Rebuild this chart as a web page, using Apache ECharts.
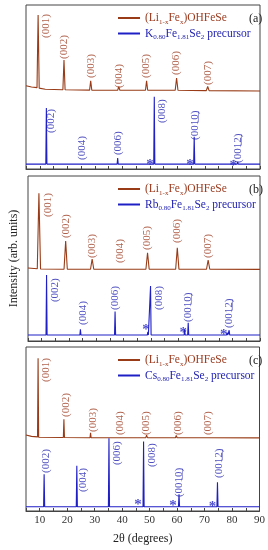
<!DOCTYPE html>
<html>
<head>
<meta charset="utf-8">
<script src="https://cdn.jsdelivr.net/npm/echarts@6/dist/echarts.min.js"></script>
<style>html,body{margin:0;padding:0;background:#fff}#c{width:268px;height:550px}</style>
</head>
<body>
<div id="c"></div>
<script>
// ---------- data (2θ in degrees, intensity in arbitrary units, 0-100 per panel) ----------
const panelLetters = ['(a)', '(b)', '(c)'];
const precursorKeys = ['K', 'Rb', 'Cs'];

// Panel (a)
const hostA = [[5,50.8],[7,50],[9.0,49.6],[9.4,93.9],[9.8,49.3],[12,48.6],[18.4,48.3],[18.8,66.5],[19.2,48.3],[28.1,48.1],[28.5,53.7],[28.9,48.1],[38.3,48],[38.7,50.2],[39.1,48],[48.4,48],[48.8,53.7],[49.2,48],[59.2,48],[59.7,55.5],[60.2,48],[70.5,47.8],[71,50.3],[71.5,47.8],[90,47.6]];
const precA = [[5,3],[12.2,3],[12.4,37.2],[12.6,3],[25.0,3],[25.2,4.2],[25.4,3],[38.1,3],[38.3,6.7],[38.5,3],[50.3,3],[50.5,3.8],[50.7,3],[51.4,3],[51.6,44.1],[51.8,3],[64.7,3],[64.9,3.6],[65.1,3],[65.9,3],[66.1,19.7],[66.3,3],[81.7,3],[81.9,4.3],[82.1,3],[90,3]];
const hostLabelsA = [[12.4,79.9,'(001)'],[19,67.1,'(002)'],[28.5,55.5,'(003)'],[38.7,49.4,'(004)'],[48.8,55.5,'(005)'],[59.7,57.3,'(006)'],[71,51.2,'(007)']];
const precLabelsA = [[14.2,22,'(002)'],[25.5,5.5,'(004)'],[38.3,8.5,'(006)'],[54.3,28,'(008)'],[66.3,17.7,'(001\u03320\u0332)'],[81.9,3.7,'(001\u03322\u0332)']];
const starsA = [[50,4.3],[64.6,4.3],[80.3,3.7]];

// Panel (b)
const hostB = [[5,44.2],[8.4,43.8],[9.0,89.5],[9.6,43.6],[18.2,43.5],[18.8,60.6],[19.4,43.5],[27.9,43.5],[28.5,49.7],[29.1,43.5],[38.2,43.5],[38.7,44.5],[39.2,43.5],[48.2,43.5],[48.8,53.5],[49.4,43.5],[59.1,43.5],[59.7,56.5],[60.3,43.5],[70.4,43.5],[71,49.1],[71.6,43.5],[90,43.4]];
const precB = [[5,3.6],[11.6,3.6],[11.8,40],[12.0,3.6],[24.0,3.6],[24.2,7.1],[24.4,3.6],[36.7,3.6],[36.9,17.8],[37.1,3.6],[48.7,3.6],[48.9,5.6],[49.1,3.6],[49.7,3.6],[49.9,33.3],[50.1,3.6],[62.2,3.6],[62.4,7.1],[62.6,3.6],[63.5,3.6],[63.7,11.1],[63.9,3.6],[77.7,3.6],[77.9,5],[78.2,3.6],[78.5,3.6],[78.7,6.5],[78.9,3.6],[90,3.6]];
const hostLabelsB = [[12.4,75.2,'(001)'],[19,62.4,'(002)'],[28.5,50.3,'(003)'],[38.7,47.3,'(004)'],[48.8,55.2,'(005)'],[59.7,59.4,'(006)'],[71,50.3,'(007)']];
const precLabelsB = [[14.8,23.6,'(002)'],[25.2,9.7,'(004)'],[36.9,18.8,'(006)'],[53,18.8,'(008)'],[63.7,11.5,'(001\u03320\u0332)'],[78.7,7.9,'(001\u03322\u0332)']];
const starsB = [[48.2,8.5],[61.9,6.7],[76.7,5.5]];

// Panel (c)
const hostC = [[5,46.3],[7,45.5],[9.2,45.2],[9.4,93.1],[9.6,45],[18.6,44.8],[18.8,55.9],[19.0,44.8],[28.3,44.7],[28.5,47.7],[28.7,44.7],[38.5,44.7],[38.7,45.2],[38.9,44.7],[48.6,44.7],[48.9,46.2],[49.2,44.7],[59.4,44.7],[59.7,46],[60,44.7],[70.7,44.7],[71,45.2],[71.3,44.7],[90,44.6]];
const precC = [[5,2.6],[11.4,2.6],[11.6,22.4],[11.8,2.6],[23.3,2.6],[23.5,27.6],[23.7,2.6],[35.0,2.6],[35.2,44.3],[35.4,2.6],[47.6,2.6],[47.8,42.3],[48.0,2.6],[60.5,2.6],[60.7,10.2],[60.9,2.6],[74.5,2.6],[74.7,17.5],[74.9,2.6],[90,2.6]];
const hostLabelsC = [[12.4,78.7,'(001)'],[19.7,57.3,'(002)'],[29.5,48.2,'(003)'],[39.3,46.3,'(004)'],[48.9,46.3,'(005)'],[60.4,46.3,'(006)'],[71.2,46.3,'(007)']];
const precLabelsC = [[12.4,23.2,'(002)'],[25.7,11.6,'(004)'],[38.1,28,'(006)'],[51,26.8,'(008)'],[60.9,8.5,'(001\u03320\u0332)'],[75.3,20.1,'(001\u03322\u0332)']];
const starsC = [[45.8,5.7],[58.5,4.9],[72.9,4.3]];

// ---------- chart ----------
const FONT = 'Liberation Serif';
const BROWN = '#983b16', BLUE = '#1f1fc6';
const BROWN_TXT = '#9c3a1e', BLUE_TXT = '#2323b0';
const AX = '#444';

const hosts = [hostA, hostB, hostC];
const precs = [precA, precB, precC];
const hostLabels = [hostLabelsA, hostLabelsB, hostLabelsC];
const precLabels = [precLabelsA, precLabelsB, precLabelsC];
const stars = [starsA, starsB, starsC];

const grids = [
  {left: 26, width: 234, top: 5, height: 164},
  {left: 26, width: 234, top: 176, height: 165},
  {left: 26, width: 234, top: 347, height: 164}
].map(g => Object.assign(g, {show: true, borderColor: AX, borderWidth: 1, backgroundColor: 'transparent'}));

const xAxes = [0,1,2].map(i => ({
  type: 'value', gridIndex: i, min: 5, max: 90, interval: 5,
  axisLine: {show: true, lineStyle: {color: AX, width: 1}},
  axisTick: {show: true, inside: true, length: 3, lineStyle: {color: AX}},
  splitLine: {show: false},
  axisLabel: {show: i === 2, margin: 4, fontFamily: FONT, fontSize: 11, color: '#333',
    formatter: v => (v % 10 === 0 ? String(v) : '')},
  name: i === 2 ? '2\u03b8 (degrees)' : '', nameLocation: 'middle', nameGap: 22,
  nameTextStyle: {fontFamily: FONT, fontSize: 12, color: '#222'}
}));

const yAxes = [0,1,2].map(i => ({
  type: 'value', gridIndex: i, min: 0, max: 100, show: i === 1,
  axisLine: {show: false}, axisTick: {show: false}, axisLabel: {show: false}, splitLine: {show: false},
  name: i === 1 ? 'Intensity (arb. units)' : '', nameLocation: 'middle', nameGap: 8,
  nameTextStyle: {fontFamily: FONT, fontSize: 12, color: '#222'}
}));

const series = [];
for (let i = 0; i < 3; i++) {
  series.push({name: 'Li', type: 'line', xAxisIndex: i, yAxisIndex: i, data: hosts[i],
    showSymbol: false, symbol: 'none', lineStyle: {color: BROWN, width: 1.1}, itemStyle: {color: BROWN}, z: 2});
  series.push({name: precursorKeys[i], type: 'line', xAxisIndex: i, yAxisIndex: i, data: precs[i],
    showSymbol: false, symbol: 'none', lineStyle: {color: BLUE, width: 1.1}, itemStyle: {color: BLUE}, z: 3});
  const lab = (data, color) => ({type: 'scatter', xAxisIndex: i, yAxisIndex: i, data: data,
    symbolSize: 1, itemStyle: {color: 'rgba(0,0,0,0)'}, silent: true, z: 5,
    label: {show: true, position: 'inside', rotate: 90, align: 'left', verticalAlign: 'middle',
      formatter: p => p.value[2], fontFamily: FONT, fontSize: 11, color: color}});
  series.push(lab(hostLabels[i], BROWN_TXT));
  series.push(lab(precLabels[i], BLUE_TXT));
  series.push({type: 'scatter', xAxisIndex: i, yAxisIndex: i, data: stars[i],
    symbolSize: 1, itemStyle: {color: 'rgba(0,0,0,0)'}, silent: true, z: 5,
    label: {show: true, position: 'inside', formatter: '*', offset: [0, 3],
      fontFamily: FONT, fontSize: 15, fontWeight: 'bold', color: BLUE}});
}

const legendText = {
  Li: '{b|(Li}{bs|1-x}{b|Fe}{bs|x}{b|)OHFeSe}',
  K: '{u|K}{us|0.80}{u|Fe}{us|1.81}{u|Se}{us|2}{u| precursor}',
  Rb: '{u|Rb}{us|0.80}{u|Fe}{us|1.81}{u|Se}{us|2}{u| precursor}',
  Cs: '{u|Cs}{us|0.80}{u|Fe}{us|1.81}{u|Se}{us|2}{u| precursor}'
};
const rich = {
  b: {fontFamily: FONT, fontSize: 11.5, color: BROWN_TXT, lineHeight: 15},
  bs: {fontFamily: FONT, fontSize: 7, color: BROWN_TXT, lineHeight: 7, verticalAlign: 'bottom'},
  u: {fontFamily: FONT, fontSize: 11.5, color: BLUE_TXT, lineHeight: 15},
  us: {fontFamily: FONT, fontSize: 7, color: BLUE_TXT, lineHeight: 7, verticalAlign: 'bottom'}
};
const legendTops = [7, 178, 349];
const legends = [0,1,2].map(i => ({
  orient: 'vertical', left: 113, top: legendTops[i], itemWidth: 22, itemHeight: 2, itemGap: 2,
  icon: 'rect', selectedMode: false,
  data: ['Li', precursorKeys[i]],
  formatter: n => legendText[n],
  textStyle: {fontFamily: FONT, fontSize: 11.5, rich: rich}
}));

const titles = [0,1,2].map(i => ({
  text: panelLetters[i], left: 244, top: grids[i].top + 3,
  textStyle: {fontFamily: FONT, fontSize: 12, fontWeight: 'normal', color: '#222'}
}));

const chart = echarts.init(document.getElementById('c'), null, {renderer: 'canvas'});
chart.setOption({
  animation: false,
  backgroundColor: '#fff',
  title: titles,
  legend: legends,
  grid: grids,
  xAxis: xAxes,
  yAxis: yAxes,
  series: series
});
</script>
</body>
</html>
